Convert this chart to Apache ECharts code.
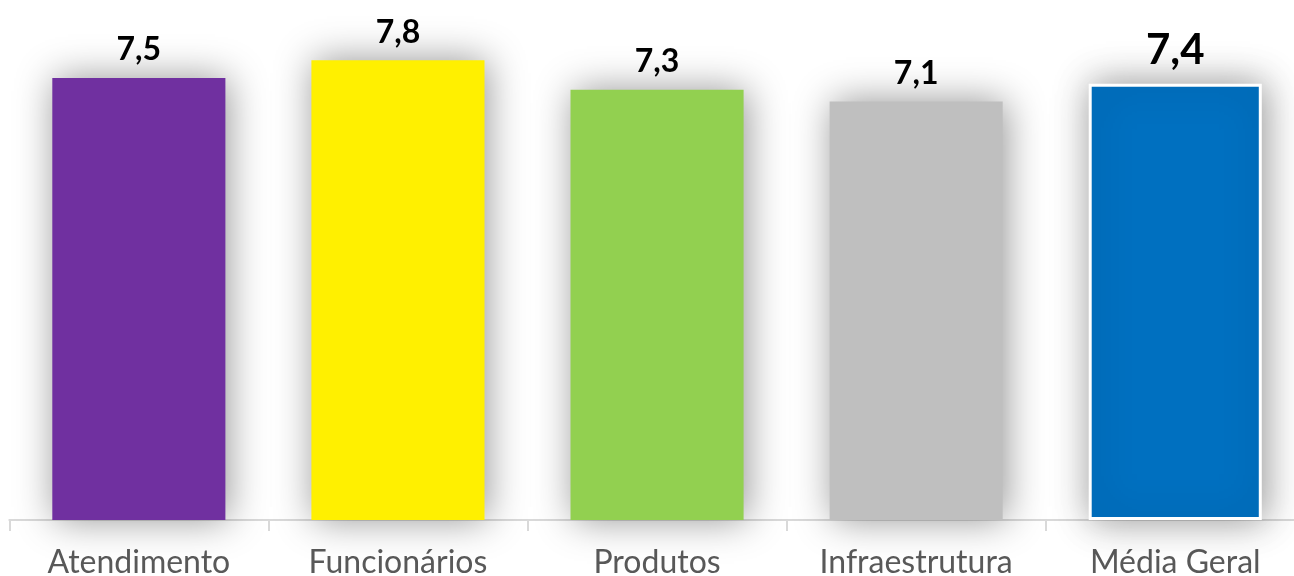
<!DOCTYPE html>
<html>
<head>
<meta charset="utf-8">
<script src="https://cdn.jsdelivr.net/npm/echarts@6/dist/echarts.min.js"></script>
<style>
  html, body { margin: 0; padding: 0; background: #ffffff; }
  #chart { width: 1294px; height: 576px; }
</style>
</head>
<body>
<div id="chart"></div>
<script>
// Satisfaction scores by area, plus the overall average
const categories = ['Atendimento', 'Funcionários', 'Produtos', 'Infraestrutura', 'Média Geral'];
const scores = [7.5, 7.8, 7.3, 7.1, 7.4];
const barColors = ['#7030A0', '#FFF000', '#92D050', '#BFBFBF', '#0070C0'];

const fmt = v => String(v).replace('.', ',');
const lastIndex = categories.length - 1;

const barData = scores.map((v, i) => {
  const isAvg = i === lastIndex;
  return {
    value: v,
    itemStyle: {
      color: barColors[i],
      borderColor: isAvg ? '#ffffff' : barColors[i],
      borderWidth: isAvg ? 3 : 0
    },
    label: isAvg ? { fontSize: 42, distance: 12 } : {}
  };
});

const chart = echarts.init(document.getElementById('chart'), null, { renderer: 'canvas' });
chart.setOption({
  backgroundColor: '#ffffff',
  animation: false,
  grid: { left: 9.3, top: 48.4, width: 1295.5, height: 471.6, outerBoundsMode: 'none', containLabel: false },
  xAxis: {
    type: 'category',
    data: categories,
    axisLine: { lineStyle: { color: '#D9D9D9', width: 2 } },
    axisTick: { show: true, length: 11, lineStyle: { color: '#D9D9D9', width: 2 } },
    axisLabel: {
      color: '#595959',
      fontFamily: 'Lato',
      fontSize: 32,
      margin: 27
    }
  },
  yAxis: {
    type: 'value',
    min: 0,
    max: 8,
    show: false,
    splitLine: { show: false }
  },
  series: [{
    type: 'bar',
    data: barData,
    barWidth: '66.8%',
    itemStyle: {
      shadowBlur: 36,
      shadowColor: 'rgba(0,0,0,0.42)',
      shadowOffsetX: 3,
      shadowOffsetY: 0
    },
    label: {
      show: true,
      position: 'top',
      distance: 12,
      color: '#000000',
      fontFamily: 'Lato',
      fontWeight: 'bold',
      fontSize: 32,
      formatter: p => fmt(p.value)
    }
  }]
});
</script>
</body>
</html>
